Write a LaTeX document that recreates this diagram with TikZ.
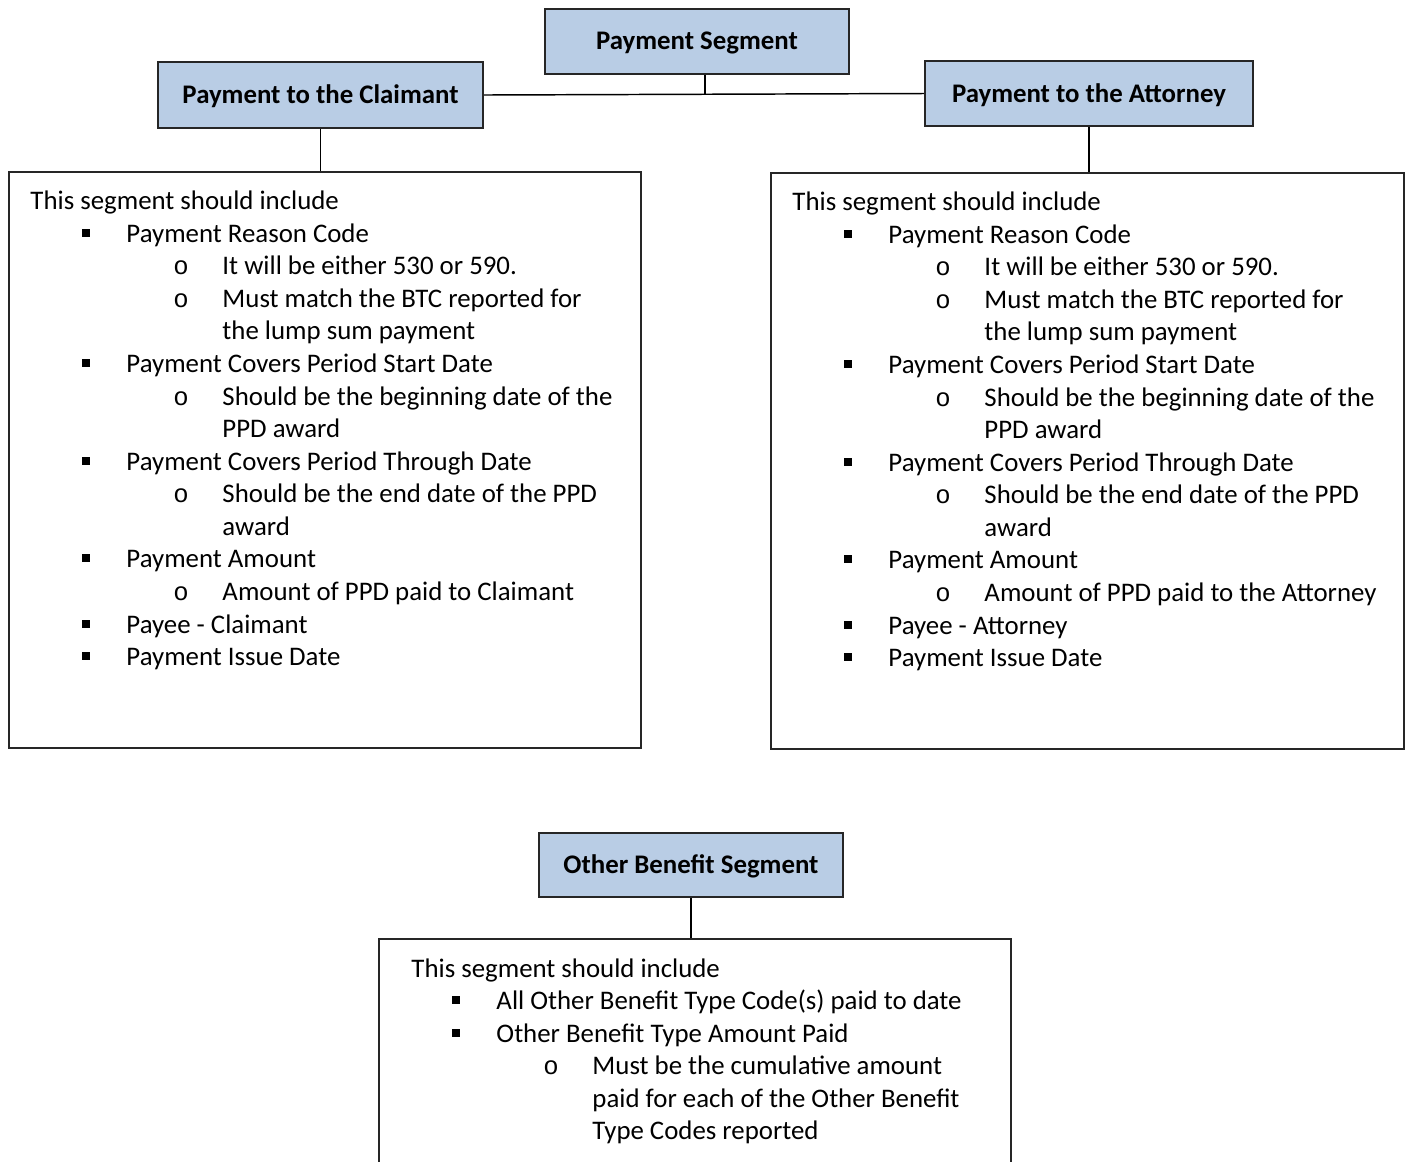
\documentclass[tikz,border=0pt]{standalone}
\usepackage{fontspec}
\setmainfont{Carlito}
\newfontfamily\monofont{Liberation Mono}
\usetikzlibrary{fit}
\definecolor{hdrblue}{HTML}{B9CDE5}
\tikzset{
  hdr/.style={draw=black!85, line width=0.9pt, fill=hdrblue, inner sep=0pt},
  hdrtext/.style={font=\fontsize{11}{13}\selectfont\bfseries, inner sep=0pt},
  cbox/.style={draw=black!85, line width=0.8pt, inner sep=0pt},
  conn/.style={line width=0.6pt},
  thickconn/.style={line width=1.2pt},
  txt/.style={anchor=base west, inner sep=0pt, font=\fontsize{11}{13}\selectfont},
  sq/.style={fill=black, inner sep=0pt, minimum size=3pt},
  circ/.style={anchor=base, inner sep=0pt, font=\monofont\fontsize{10.5}{13}\selectfont},
}
\newcommand\seglist[4]{%
  \foreach \k/\yy/\t [count=\i] in {#4}{%
    \pgfmathsetmacro{\xo}{{21,117,213,213,32}[\k]}%
    \node[txt] (#1t\i) at (#2+\xo, #3+\yy) {\t};
    \ifnum\k=1 \node[sq] (#1b\i) at (#2+77, #3+\yy-9) {};\fi
    \ifnum\k=2 \node[circ] (#1c\i) at (#2+172, #3+\yy) {o};\fi
  }%
}
\begin{document}
\begin{tikzpicture}[x=0.41pt,y=-0.41pt]
\useasboundingbox (0,0) rectangle (1409,1161);
\clip (0,0) rectangle (1409,1161);
\fill[white] (0,0) rectangle (1409,1161);

% header boxes
\node[hdr, fit={(545,9) (849,74)}] (pay) {};
\node[hdrtext] (payt) at ([yshift=-0.5pt]pay.center) {Payment Segment};
\node[hdr, fit={(158,62) (483,128)}] (claim) {};
\node[hdrtext] (claimt) at ([yshift=-0.5pt]claim.center) {Payment to the Claimant};
\node[hdr, fit={(925,61) (1253,126)}] (att) {};
\node[hdrtext] (attt) at ([yshift=-0.5pt]att.center) {Payment to the Attorney};
\node[hdr, fit={(539,833) (843,897)}] (oth) {};
\node[hdrtext] (otht) at ([yshift=-0.5pt]oth.center) {Other Benefit Segment};

% content boxes
\node[cbox, fit={(9,172) (641,748)}] (lbox) {};
\node[cbox, fit={(771,173) (1404,749)}] (rbox) {};
\node[cbox, fit={(379,939) (1011,1175)}] (bbox) {};

% connectors
\coordinate (j) at (705,94.3);
\draw[conn] (claim.east) -- (att.west);
\draw[conn] (pay.south -| j) -- (j);
\draw[conn] (claim.south) -- (claim.south |- lbox.north);
\draw[conn] (att.south) -- (att.south |- rbox.north);
\draw[thickconn] (oth.south) -- (oth.south |- bbox.north);

% texts
\seglist{L}{9}{2}{0/207/This segment should include,
  1/240/Payment Reason Code,
  2/272/It will be either 530 or 590.,
  2/305/Must match the BTC reported for,
  3/337/the lump sum payment,
  1/370/Payment Covers Period Start Date,
  2/403/Should be the beginning date of the,
  3/435/PPD award,
  1/468/Payment Covers Period Through Date,
  2/500/Should be the end date of the PPD,
  3/533/award,
  1/565/Payment Amount,
  2/598/Amount of PPD paid to Claimant,
  1/631/Payee - Claimant,
  1/663/Payment Issue Date}
\seglist{R}{771}{3}{0/207/This segment should include,
  1/240/Payment Reason Code,
  2/272/It will be either 530 or 590.,
  2/305/Must match the BTC reported for,
  3/337/the lump sum payment,
  1/370/Payment Covers Period Start Date,
  2/403/Should be the beginning date of the,
  3/435/PPD award,
  1/468/Payment Covers Period Through Date,
  2/500/Should be the end date of the PPD,
  3/533/award,
  1/565/Payment Amount,
  2/598/Amount of PPD paid to the Attorney,
  1/631/Payee - Attorney,
  1/663/Payment Issue Date}
\seglist{B}{379}{2}{4/975/This segment should include,
  1/1007/All Other Benefit Type Code(s) paid to date,
  1/1040/Other Benefit Type Amount Paid,
  2/1072/Must be the cumulative amount,
  3/1105/paid for each of the Other Benefit,
  3/1137/Type Codes reported}
\end{tikzpicture}
\end{document}
